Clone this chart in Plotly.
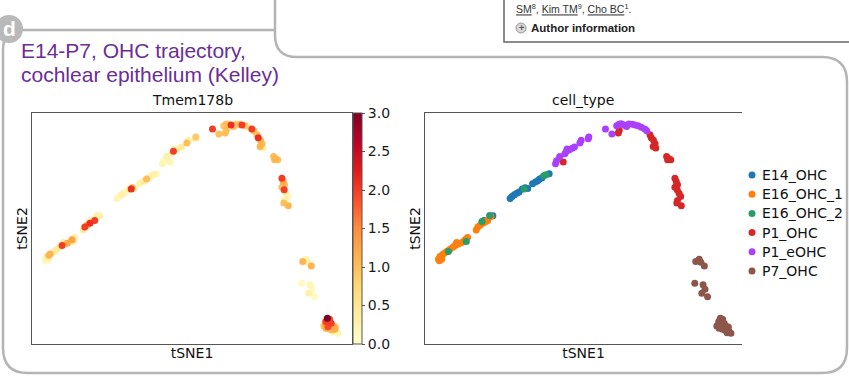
import plotly.graph_objects as go

W, H = 849, 378

# ---------------- data (tSNE coordinates, Tmem178b expression) ----------------
e14_tsne1 = [21.2, 18.5, 26.6, 27.2, 27.9, 28.7, 29.4, 30.4, 31.3, 32.1, 33.6, 34.5, 35.2, 35.8, 36.6, 38.8]
e14_tsne2 = [55.5, 53.5, 63.0, 63.9, 64.6, 65.3, 65.8, 67.1, 67.6, 67.3, 69.4, 70.1, 70.7, 71.4, 72.0, 73.7]
e14_tmem178b = [0.2, 0.3, 0.2, 0.1, 0.3, 0.2, 0.1, 0.4, 1.2, 0.2, 0.3, 0.2, 0.4, 1.0, 0.3, 0.2]

e16a_tsne1 = [4.2, 4.7, 4.5, 5.3, 5.7, 6.4, 7.0, 7.8, 8.7, 9.4, 10.1, 11.0, 11.8, 12.5, 13.3,
              16.0, 16.5, 17.2, 18.1, 18.9, 19.6, 20.6, 5.2, 9.9]
e16a_tsne2 = [36.7, 37.9, 36.0, 38.4, 39.0, 39.6, 40.3, 41.0, 41.9, 42.6, 43.2, 43.6, 44.2, 45.1, 46.1,
              49.4, 50.6, 51.4, 52.3, 52.9, 53.5, 55.2, 36.7, 43.9]
e16a_tmem178b = [0.2, 0.3, 0.1, 1.1, 1.1, 0.3, 0.2, 0.4, 0.3, 2.0, 0.5, 1.2, 0.4, 1.3, 0.3,
                 0.4, 2.0, 1.2, 2.1, 0.3, 2.0, 0.3, 0.2, 0.3]

e16b_tsne1 = [7.3, 12.9, 17.8, 20.2, 31.0, 37.1, 37.8]
e16b_tsne2 = [40.0, 44.4, 53.0, 55.6, 67.1, 72.8, 73.3]
e16b_tmem178b = [0.2, 0.4, 0.3, 0.2, 2.1, 0.2, 0.3]

p1_tsne1 = [43.2, 60.4, 60.7, 70.3, 70.7, 71.4, 71.9, 71.3, 72.1, 75.5, 76.1, 76.8, 75.8,
            78.1, 78.5, 78.9, 78.1, 78.8, 79.4, 79.9, 78.9, 78.7, 80.1]
p1_tsne2 = [78.8, 91.3, 92.5, 90.6, 89.3, 88.2, 86.7, 85.5, 84.8, 81.2, 80.3, 79.8, 79.8,
            71.8, 70.4, 68.9, 67.9, 66.8, 65.3, 63.9, 62.1, 61.0, 59.8]
p1_tmem178b = [0.2, 1.0, 1.0, 1.0, 2.1, 1.1, 1.0, 1.1, 0.3, 1.0, 1.1, 1.0, 1.0,
               2.0, 1.2, 1.0, 1.0, 2.0, 0.3, 0.2, 0.3, 1.0, 1.1]

p1e_tsne1 = [40.8, 41.1, 42.1, 43.7, 44.2, 45.1, 46.0, 46.7, 48.4, 48.8, 51.0, 51.2, 56.4, 58.4,
             59.9, 60.6, 61.3, 62.2, 63.0, 63.7, 64.8, 65.6, 66.6, 67.6, 68.7, 69.3, 44.4]
p1e_tsne2 = [78.0, 79.3, 81.2, 82.4, 83.4, 84.1, 84.7, 85.3, 87.0, 88.2, 88.9, 89.6, 93.1, 90.9,
             94.5, 95.1, 95.4, 94.8, 94.2, 95.2, 95.1, 94.8, 94.5, 93.8, 93.1, 92.3, 84.4]
p1e_tmem178b = [0.2, 0.1, 0.3, 0.2, 2.0, 0.3, 0.2, 0.4, 1.0, 0.3, 0.2, 0.9, 2.0, 1.0,
                0.9, 1.0, 0.5, 2.1, 1.0, 0.8, 1.0, 2.0, 0.9, 0.3, 2.0, 1.0, 0.3]

p7_tsne1 = [84.6, 85.7, 86.2, 87.3, 84.3, 86.9, 87.5, 86.5, 88.3, 92.3, 93.0, 91.8, 92.6, 93.5,
            91.6, 92.5, 93.3, 94.0, 94.6, 93.7, 95.1, 92.3, 94.4, 93.0, 91.2, 95.6, 94.8, 91.9]
p7_tsne2 = [35.7, 36.7, 35.4, 33.8, 26.3, 25.6, 23.7, 22.0, 20.5, 11.1, 10.7, 9.7, 9.2, 9.0,
            8.2, 7.5, 7.2, 7.8, 6.4, 6.1, 5.3, 8.7, 4.9, 6.4, 7.8, 4.6, 7.4, 6.8]
p7_tmem178b = [1.1, 0.2, 0.3, 1.1, 0.1, 0.2, 0.1, 0.3, 0.1, 3.0, 1.9, 2.0, 1.2, 2.0,
               1.1, 1.9, 1.1, 1.2, 1.2, 1.0, 0.2, 1.3, 0.1, 1.0, 0.9, 0.2, 1.0, 1.2]

cell_types = ["E14_OHC", "E16_OHC_1", "E16_OHC_2", "P1_OHC", "P1_eOHC", "P7_OHC"]
type_colors = ["#1f77b4", "#ff7f0e", "#279e68", "#d62728", "#aa40fc", "#8c564b"]
cbar_ticks = [0.0, 0.5, 1.0, 1.5, 2.0, 2.5, 3.0]

groups = [
    (e14_tsne1, e14_tsne2, e14_tmem178b),
    (e16a_tsne1, e16a_tsne2, e16a_tmem178b),
    (e16b_tsne1, e16b_tsne2, e16b_tmem178b),
    (p1_tsne1, p1_tsne2, p1_tmem178b),
    (p1e_tsne1, p1e_tsne2, p1e_tmem178b),
    (p7_tsne1, p7_tsne2, p7_tmem178b),
]

YLORRD = ["#ffffcc", "#ffeda0", "#fed976", "#feb24c", "#fd8d3c",
          "#fc4e2a", "#e31a1c", "#bd0026", "#800026"]
PURPLE = "#6a2e96"
FRAME = "#b4b4b4"
SPINE = "#555555"
CHART_FONT = "DejaVu Sans"
WEB_FONT = "Liberation Sans"


def X(p):
    return p / W


def Y(p):
    return 1 - p / H


def path(cmds):
    out = []
    for c in cmds:
        letter, nums = c[0], c[1:]
        pts = []
        for i in range(0, len(nums), 2):
            pts.append(f"{X(nums[i]):.5f},{Y(nums[i + 1]):.5f}")
        out.append(letter + " " + " ".join(pts))
    return " ".join(out)


fig = go.Figure()

# ---------- left panel: Tmem178b expression (highest drawn on top) ----------
all_pts = []
for t1, t2, ex in groups:
    all_pts.extend(zip(t1, t2, ex))
all_pts.sort(key=lambda p: p[2])
fig.add_trace(go.Scatter(
    x=[p[0] for p in all_pts], y=[p[1] for p in all_pts],
    mode="markers", xaxis="x", yaxis="y", showlegend=False,
    hovertemplate="tSNE1 %{x}<br>tSNE2 %{y}<br>Tmem178b %{marker.color}<extra></extra>",
    marker=dict(
        size=7, color=[p[2] for p in all_pts], cmin=0, cmax=3,
        colorscale=[[i / (len(YLORRD) - 1), c] for i, c in enumerate(YLORRD)],
        line=dict(width=0),
        colorbar=dict(
            x=X(353), xanchor="left", xpad=0, ypad=0,
            y=Y(228.5), yanchor="middle",
            len=231 / H, lenmode="fraction",
            thickness=9, thicknessmode="pixels",
            outlinewidth=1, outlinecolor=SPINE,
            tickvals=cbar_ticks, ticktext=[f"{v:.1f}" for v in cbar_ticks],
            ticks="outside", ticklen=3, tickcolor=SPINE, tickwidth=1,
            tickfont=dict(family=CHART_FONT, size=14, color="#1a1a1a"),
        ),
    ),
))

# ---------- right panel: cell types ----------
for name, color, (t1, t2, ex) in zip(cell_types, type_colors, groups):
    fig.add_trace(go.Scatter(
        x=t1, y=t2, mode="markers", name=name, xaxis="x2", yaxis="y2", showlegend=False,
        marker=dict(size=7, color=color, line=dict(width=0)),
    ))

axis_common = dict(showgrid=False, zeroline=False, showticklabels=False, ticks="",
                   showline=True, linecolor=SPINE, linewidth=1)
title_font = dict(family=CHART_FONT, size=14, color="#111111")

fig.update_layout(
    width=W, height=H, autosize=False,
    margin=dict(l=0, r=0, t=0, b=0),
    paper_bgcolor="white", plot_bgcolor="white",
    xaxis=dict(domain=[X(32), X(352)], range=[0, 100], mirror=True, anchor="y",
               title=dict(text="tSNE1", font=title_font, standoff=4), **axis_common),
    yaxis=dict(domain=[Y(344), Y(113)], range=[0, 100], mirror=True, anchor="x",
               title=dict(text="tSNE2", font=title_font, standoff=0), **axis_common),
    xaxis2=dict(domain=[X(425), X(742)], range=[0, 100 * 317 / 320], mirror=True, anchor="y2",
                title=dict(text="tSNE1", font=title_font, standoff=4), **axis_common),
    yaxis2=dict(domain=[Y(344), Y(113)], range=[0, 100], mirror=False, anchor="x2",
                title=dict(text="tSNE2", font=title_font, standoff=0), **axis_common),
    showlegend=False,
)

# ---------- page decorations ----------
shapes = [
    # panel frame (with the bottom-left corner of the panel above)
    dict(type="path", xref="paper", yref="paper", layer="below",
         line=dict(color=FRAME, width=2.5),
         path=path([("M", 275, -2), ("L", 275, 35), ("Q", 275, 57, 297, 57), ("L", 822, 57),
                    ("Q", 847, 57, 847, 82), ("L", 847, 348), ("Q", 847, 373, 822, 373),
                    ("L", 28, 373), ("Q", 3, 373, 3, 348), ("L", 3, 50), ("Q", 3, 30, 23, 30),
                    ("L", 275, 30)])),
    # "d" badge
    dict(type="circle", xref="paper", yref="paper", layer="above",
         x0=X(-5), x1=X(23), y0=Y(15), y1=Y(43),
         fillcolor="#b9b9b9", line=dict(width=0)),
    # author information box
    dict(type="path", xref="paper", yref="paper", layer="below",
         line=dict(color="#666666", width=1.5),
         path=path([("M", 504, -2), ("L", 504, 42), ("L", 851, 42)])),
    dict(type="circle", xref="paper", yref="paper", layer="above",
         x0=X(516), x1=X(526), y0=Y(23), y1=Y(33),
         fillcolor="#d6d6d6", line=dict(color="#9a9a9a", width=1)),
]

ul = 'style="text-decoration:underline"'
annotations = [
    dict(text="E14-P7, OHC trajectory,", x=X(19), y=Y(50), xanchor="left", yanchor="middle",
         font=dict(family=WEB_FONT, size=21, color=PURPLE)),
    dict(text="cochlear epithelium (Kelley)", x=X(19), y=Y(75), xanchor="left", yanchor="middle",
         font=dict(family=WEB_FONT, size=21, color=PURPLE)),
    dict(text="<b>d</b>", x=X(9), y=Y(28), xanchor="center", yanchor="middle",
         font=dict(family=WEB_FONT, size=21, color="white")),
    dict(text="Tmem178b", x=X(192), y=Y(100), xanchor="center", yanchor="middle", font=title_font),
    dict(text="cell_type", x=X(583), y=Y(100), xanchor="center", yanchor="middle", font=title_font),
    dict(text=f"<span {ul}>SM</span><sup>8</sup>, <span {ul}>Kim TM</span><sup>9</sup>, "
              f"<span {ul}>Cho BC</span><sup>1</sup>.",
         x=X(514), y=Y(8), xanchor="left", yanchor="middle",
         font=dict(family=WEB_FONT, size=10.5, color="#333333")),
    dict(text="<b>+</b>", x=X(521), y=Y(28), xanchor="center", yanchor="middle",
         font=dict(family=WEB_FONT, size=9, color="#555555")),
    dict(text="<b>Author information</b>", x=X(529), y=Y(28), xanchor="left", yanchor="middle",
         font=dict(family=WEB_FONT, size=11.5, color="#222222")),
]

# ---------- cell_type legend (marker + label per category) ----------
LEG_X, LEG_Y0, LEG_DY = 752, 175, 19.2
for i, (name, color) in enumerate(zip(cell_types, type_colors)):
    yc = LEG_Y0 + i * LEG_DY
    shapes.append(dict(type="circle", xref="paper", yref="paper", layer="above",
                       xsizemode="pixel", ysizemode="pixel",
                       xanchor=X(LEG_X), yanchor=Y(yc),
                       x0=-3.5, x1=3.5, y0=-3.5, y1=3.5,
                       fillcolor=color, line=dict(width=0)))
    annotations.append(dict(text=name, x=X(760), y=Y(yc), xanchor="left", yanchor="middle",
                            font=dict(family=CHART_FONT, size=14, color="#111111")))

for a in annotations:
    a.update(xref="paper", yref="paper", showarrow=False)
fig.update_layout(shapes=shapes, annotations=annotations)

fig.write_html("out.html", config={"displayModeBar": False},
               post_script="document.body.style.margin='0';")
